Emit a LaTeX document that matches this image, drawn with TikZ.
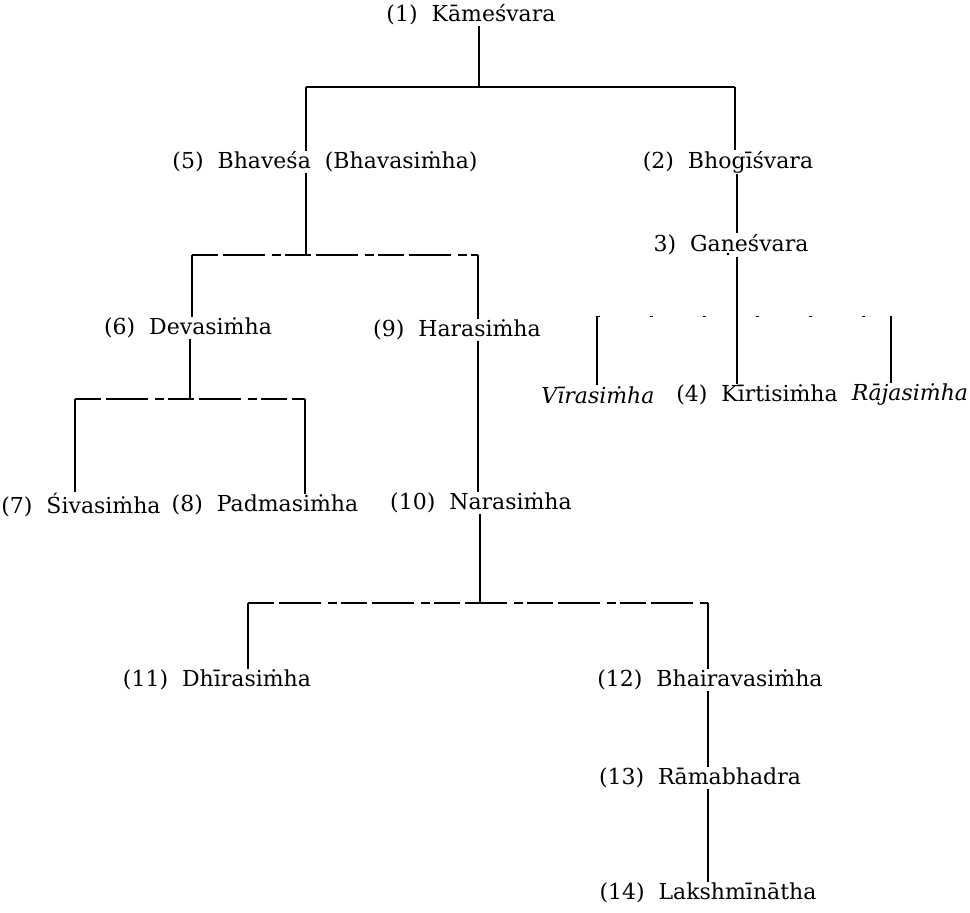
\documentclass[tikz,border=0pt]{standalone}
\usepackage{fontspec}
\setmainfont{DejaVu Serif}
\begin{document}
\begin{tikzpicture}[x=1pt,y=-1pt,
    person/.style={inner sep=1pt,font=\fontsize{22}{26}\selectfont},
    link/.style={line width=1.6pt},
    brokenbar/.style={line width=1.2pt,dash pattern=on 26pt off 5pt on 42pt off 7pt on 9pt off 4pt},
    faintbar/.style={line width=1pt,dash pattern=on 3pt off 50pt}]
\useasboundingbox (0,0) rectangle (970,913);

% the persons
\node[person] (kam) at (471,15)  {(1)\ \ Kāmeśvara};
\node[person] (bha) at (325,162) {(5)\ \ Bhaveśa\ \ (Bhavasiṁha)};
\node[person] (bho) at (728,162) {(2)\ \ Bhogīśvara};
\node[person] (gan) at (731,245) {3)\ \ Gaṇeśvara};
\node[person] (dev) at (188,328) {(6)\ \ Devasiṁha};
\node[person] (har) at (457,330) {(9)\ \ Harasiṁha};
\node[person] (vir) at (598,395) {\itshape Vīrasiṁha};
\node[person] (kir) at (757,395) {(4)\ \ Kīrtisiṁha};
\node[person] (raj) at (910,395) {\itshape Rājasiṁha};
\node[person] (siv) at (81,505)  {(7)\ \ Śivasiṁha};
\node[person] (pad) at (265,505) {(8)\ \ Padmasiṁha};
\node[person] (nar) at (481,503) {(10)\ \ Narasiṁha};
\node[person] (dhi) at (217,680) {(11)\ \ Dhīrasiṁha};
\node[person] (bhai) at (710,680) {(12)\ \ Bhairavasiṁha};
\node[person] (ram) at (700,778) {(13)\ \ Rāmabhadra};
\node[person] (lak) at (708,893) {(14)\ \ Lakshmīnātha};

% junctions of the bars
\coordinate (j1) at (479,87);  \coordinate (j1l) at (306,87);  \coordinate (j1r) at (735,87);
\coordinate (j2) at (306,255); \coordinate (j2l) at (192,255); \coordinate (j2r) at (478,255);
\coordinate (j3) at (737,316); \coordinate (j3l) at (597,316); \coordinate (j3r) at (891,316);
\coordinate (j4) at (190,399); \coordinate (j4l) at (75,399);  \coordinate (j4r) at (305,399);
\coordinate (j5) at (480,603); \coordinate (j5l) at (248,603); \coordinate (j5r) at (708,603);

% (1) and his sons
\draw[link] (kam.south -| j1) -- (j1);
\draw[link] (j1l) -- (j1r);
\draw[link] (j1l) -- (bha.north -| j1l);
\draw[link] (j1r) -- (bho.north -| j1r);

% line of (5)
\draw[link] (bha.south -| j2) -- (j2);
\draw[brokenbar] (j2l) -- (j2r);
\draw[link] (j2l) -- (dev.north -| j2l);
\draw[link] (j2r) -- (har.north -| j2r);
\draw[link] (dev.south -| j4) -- (j4);
\draw[brokenbar] (j4l) -- (j4r);
\draw[link] (j4l) -- (siv.north -| j4l);
\draw[link] (j4r) -- (pad.north -| j4r);
\draw[link] (har.south -| j2r) -- (nar.north -| j2r);
\draw[link] (nar.south -| j5) -- (j5);
\draw[brokenbar] (j5l) -- (j5r);
\draw[link] (j5l) -- (dhi.north -| j5l);
\draw[link] (j5r) -- (bhai.north -| j5r);
\draw[link] (bhai.south -| j5r) -- (ram.north -| j5r);
\draw[link] (ram.south -| j5r) -- (lak.north -| j5r);

% line of (2)
\draw[link] (bho.south -| j3) -- (gan.north -| j3);
\draw[link] (gan.south -| j3) -- (j3);
\draw[faintbar] (j3l) -- (j3r);
\draw[link] (j3l) -- (vir.north -| j3l);
\draw[link] (j3) -- (kir.north -| j3);
\draw[link] (j3r) -- (raj.north -| j3r);
\end{tikzpicture}
\end{document}
